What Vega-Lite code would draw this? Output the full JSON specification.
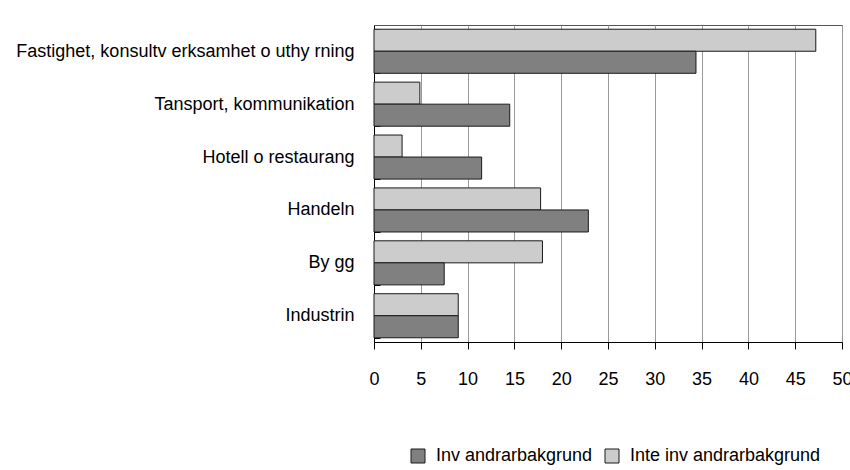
{
  "$schema": "https://vega.github.io/schema/vega-lite/v6.json",
  "width": 468,
  "height": 317,
  "autosize": {"type": "none"},
  "padding": {"left": 374, "top": 25, "right": 8, "bottom": 128},
  "background": "white",
  "config": {
    "font": "Liberation Sans",
    "view": {"stroke": "#555", "strokeWidth": 1},
    "axis": {"labelFont": "Liberation Sans", "labelColor": "black", "labelFontSize": 18}
  },
  "data": {
    "values": [
      {"bransch": "Fastighet, konsultv erksamhet o uthy rning", "grupp": "Inte inv andrarbakgrund", "andel": 47.2},
      {"bransch": "Fastighet, konsultv erksamhet o uthy rning", "grupp": "Inv andrarbakgrund", "andel": 34.4},
      {"bransch": "Tansport, kommunikation", "grupp": "Inte inv andrarbakgrund", "andel": 4.9},
      {"bransch": "Tansport, kommunikation", "grupp": "Inv andrarbakgrund", "andel": 14.5},
      {"bransch": "Hotell o restaurang", "grupp": "Inte inv andrarbakgrund", "andel": 3.0},
      {"bransch": "Hotell o restaurang", "grupp": "Inv andrarbakgrund", "andel": 11.5},
      {"bransch": "Handeln", "grupp": "Inte inv andrarbakgrund", "andel": 17.8},
      {"bransch": "Handeln", "grupp": "Inv andrarbakgrund", "andel": 22.9},
      {"bransch": "By gg", "grupp": "Inte inv andrarbakgrund", "andel": 18.0},
      {"bransch": "By gg", "grupp": "Inv andrarbakgrund", "andel": 7.5},
      {"bransch": "Industrin", "grupp": "Inte inv andrarbakgrund", "andel": 9.0},
      {"bransch": "Industrin", "grupp": "Inv andrarbakgrund", "andel": 9.0}
    ]
  },
  "mark": {"type": "bar", "stroke": "#1a1a1a", "strokeWidth": 1},
  "encoding": {
    "y": {
      "field": "bransch",
      "type": "nominal",
      "sort": ["Fastighet, konsultv erksamhet o uthy rning", "Tansport, kommunikation", "Hotell o restaurang", "Handeln", "By gg", "Industrin"],
      "scale": {"paddingInner": 0.167, "paddingOuter": 0.08},
      "axis": {
        "title": null,
        "domainColor": "black",
        "tickColor": "black",
        "tickBand": "extent",
        "tickSize": -6,
        "labelPadding": 26,
        "labelLimit": 400
      }
    },
    "yOffset": {
      "field": "grupp",
      "sort": ["Inte inv andrarbakgrund", "Inv andrarbakgrund"],
      "scale": {"paddingInner": 0, "paddingOuter": 0}
    },
    "x": {
      "field": "andel",
      "type": "quantitative",
      "scale": {"domain": [0, 50], "nice": false},
      "axis": {
        "title": null,
        "values": [0, 5, 10, 15, 20, 25, 30, 35, 40, 45, 50],
        "grid": true,
        "gridColor": "#999",
        "domainColor": "black",
        "tickColor": "black",
        "tickSize": 7,
        "labelPadding": 21,
        "labelFlush": false
      }
    },
    "color": {
      "field": "grupp",
      "type": "nominal",
      "scale": {"domain": ["Inv andrarbakgrund", "Inte inv andrarbakgrund"], "range": ["#808080", "#cccccc"]},
      "legend": {
        "title": null,
        "orient": "none",
        "direction": "horizontal",
        "legendX": 35,
        "legendY": 422,
        "symbolType": "square",
        "symbolSize": 196,
        "symbolStrokeColor": "#1a1a1a",
        "symbolStrokeWidth": 1,
        "labelFont": "Liberation Sans",
        "labelFontSize": 18,
        "labelColor": "black",
        "labelOffset": 9,
        "columnPadding": 10,
        "labelLimit": 300
      }
    }
  }
}
